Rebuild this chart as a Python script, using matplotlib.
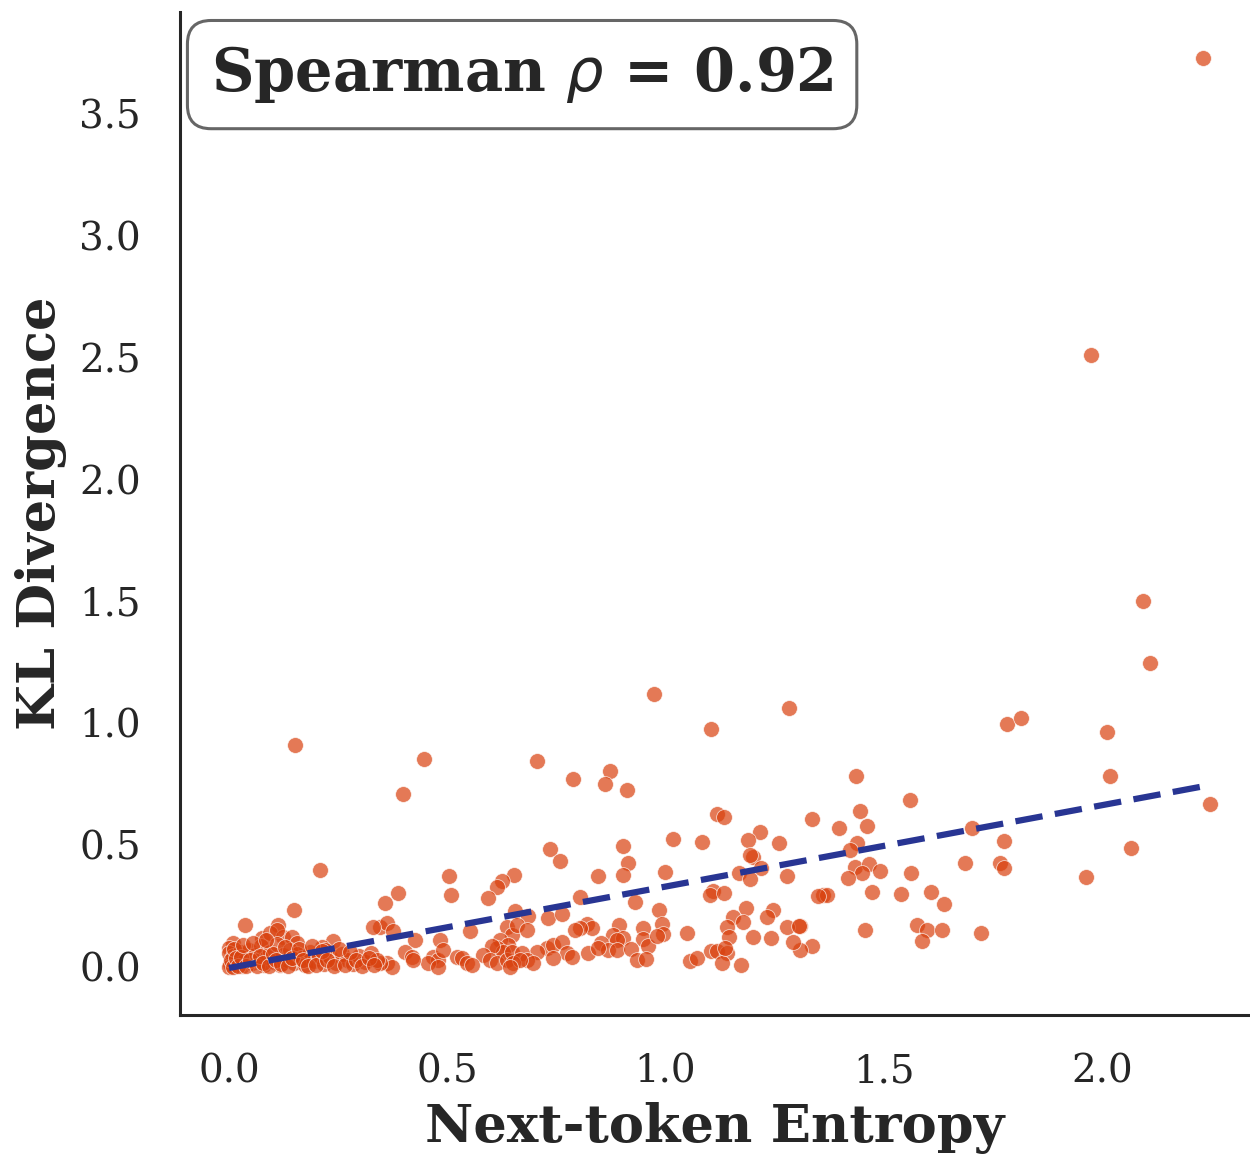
import numpy as np
import matplotlib
matplotlib.use("Agg")
import matplotlib.pyplot as plt

# --- data (entropy, KL divergence) ---
entropy = [
    # outliers / sparse upper region
    2.231, 1.975, 2.094, 2.110, 1.782, 1.814, 2.011, 2.018, 2.247, 2.066, 1.963,
    0.974, 1.104, 1.283, 0.151, 0.447, 0.399, 0.706, 0.788, 0.873, 0.861, 0.912,
    1.436, 1.560, 0.208,
    # 1.3 - 1.8
    1.336, 1.397, 1.446, 1.462, 1.439, 1.423, 1.434, 1.466, 1.491, 1.450, 1.418,
    1.562, 1.702, 1.775, 1.686, 1.766, 1.775, 1.361, 1.370, 1.473, 1.540, 1.608,
    1.638, 1.308, 1.457, 1.576, 1.599, 1.633, 1.588, 1.723, 1.336, 1.308, 1.292,
    1.349,
    # 0.8 - 1.3
    1.118, 1.134, 1.216, 1.189, 1.260, 1.017, 1.084, 0.903, 0.914, 0.903, 1.200,
    1.194, 1.219, 1.168, 1.194, 1.278, 0.999, 0.845, 0.804, 1.109, 1.102, 1.134,
    0.930, 0.985, 1.184, 1.246, 1.233, 1.155, 1.178, 0.820, 0.832, 0.804, 0.893,
    0.948, 0.992, 0.994, 1.049, 1.141, 1.145, 1.200, 1.242, 1.278, 1.306, 0.880,
    0.903, 0.889, 0.948, 0.960, 0.981, 0.852, 0.868, 0.889, 0.921, 0.822, 0.935,
    0.955, 1.056, 1.072, 1.104, 1.118, 1.141, 1.129, 1.173, 1.136,
    # 0.35 - 0.8
    0.735, 0.758, 0.504, 0.509, 0.653, 0.625, 0.614, 0.593, 0.387, 0.357, 0.655,
    0.685, 0.731, 0.763, 0.793, 0.346, 0.362, 0.376, 0.426, 0.403, 0.483, 0.552,
    0.637, 0.648, 0.660, 0.683, 0.621, 0.639, 0.614, 0.628, 0.603, 0.582, 0.598,
    0.614, 0.637, 0.648, 0.729, 0.742, 0.763, 0.774, 0.786, 0.845, 0.706, 0.671,
    0.683, 0.696, 0.467, 0.479, 0.490, 0.456, 0.479, 0.522, 0.534, 0.545, 0.557,
    0.419, 0.422, 0.362, 0.373, 0.346, 0.651, 0.667, 0.644, 0.742,
    # 0.0 - 0.35
    0.149, 0.037, 0.112, 0.076, 0.094, 0.124, 0.144, 0.156, 0.009, 0.000, 0.000,
    0.238, 0.213, 0.220, 0.330, 0.110,
    0.002, 0.010, 0.018, 0.025, 0.030, 0.038, 0.045, 0.052, 0.060, 0.066, 0.074,
    0.080, 0.088, 0.095, 0.102, 0.110, 0.116, 0.124, 0.132, 0.140, 0.148, 0.156,
    0.165, 0.175, 0.185, 0.195, 0.205, 0.218, 0.232, 0.245, 0.258, 0.270, 0.285,
    0.298, 0.312, 0.325, 0.338,
    0.000, 0.004, 0.008, 0.012, 0.015, 0.020, 0.028, 0.033, 0.040, 0.048, 0.055,
    0.063, 0.070, 0.078, 0.085, 0.092, 0.100, 0.107, 0.120, 0.128, 0.136, 0.145,
    0.160, 0.170, 0.180, 0.190, 0.200, 0.212, 0.225, 0.240, 0.252, 0.265, 0.278,
    0.292, 0.305, 0.320, 0.332,
]
kl_div = [
    3.730, 2.511, 1.502, 1.247, 0.997, 1.022, 0.964, 0.784, 0.669, 0.488, 0.369,
    1.120, 0.977, 1.063, 0.911, 0.854, 0.710, 0.845, 0.771, 0.804, 0.751, 0.726,
    0.784, 0.685, 0.398,
    0.607, 0.570, 0.640, 0.579, 0.509, 0.480, 0.410, 0.423, 0.394, 0.386, 0.365,
    0.386, 0.570, 0.517, 0.427, 0.427, 0.406, 0.295, 0.295, 0.308, 0.300, 0.308,
    0.259, 0.168, 0.152, 0.172, 0.152, 0.152, 0.107, 0.140, 0.086, 0.070, 0.103,
    0.291,
    0.628, 0.616, 0.554, 0.521, 0.509, 0.525, 0.513, 0.497, 0.427, 0.378, 0.451,
    0.460, 0.406, 0.386, 0.361, 0.373, 0.390, 0.373, 0.287, 0.312, 0.295, 0.304,
    0.267, 0.234, 0.242, 0.234, 0.205, 0.205, 0.185, 0.176, 0.160, 0.160, 0.172,
    0.160, 0.176, 0.135, 0.140, 0.164, 0.123, 0.123, 0.119, 0.164, 0.168, 0.131,
    0.119, 0.111, 0.115, 0.086, 0.127, 0.098, 0.070, 0.070, 0.074, 0.057, 0.029,
    0.033, 0.025, 0.037, 0.066, 0.066, 0.057, 0.016, 0.008, 0.078,
    0.484, 0.435, 0.373, 0.295, 0.378, 0.353, 0.328, 0.283, 0.304, 0.263, 0.230,
    0.209, 0.201, 0.217, 0.152, 0.164, 0.181, 0.148, 0.111, 0.062, 0.111, 0.148,
    0.164, 0.131, 0.172, 0.152, 0.111, 0.090, 0.078, 0.062, 0.086, 0.049, 0.029,
    0.016, 0.029, 0.062, 0.078, 0.090, 0.103, 0.057, 0.041, 0.078, 0.062, 0.057,
    0.029, 0.016, 0.041, 0.029, 0.070, 0.016, 0.000, 0.041, 0.037, 0.016, 0.008,
    0.041, 0.029, 0.016, 0.000, 0.016, 0.016, 0.029, 0.000, 0.037,
    0.234, 0.172, 0.172, 0.119, 0.140, 0.123, 0.123, 0.098, 0.098, 0.078, 0.057,
    0.107, 0.082, 0.070, 0.164, 0.152,
    0.012, 0.045, 0.020, 0.060, 0.005, 0.035, 0.070, 0.015, 0.050, 0.028, 0.085,
    0.010, 0.040, 0.062, 0.022, 0.095, 0.008, 0.048, 0.030, 0.070, 0.015, 0.052,
    0.035, 0.010, 0.060, 0.025, 0.045, 0.012, 0.040, 0.018, 0.055, 0.030, 0.012,
    0.045, 0.020, 0.058, 0.030,
    0.000, 0.030, 0.002, 0.075, 0.035, 0.003, 0.040, 0.090, 0.004, 0.028, 0.100,
    0.005, 0.045, 0.018, 0.110, 0.006, 0.055, 0.030, 0.012, 0.080, 0.003, 0.038,
    0.075, 0.028, 0.004, 0.085, 0.008, 0.065, 0.028, 0.004, 0.075, 0.010, 0.060,
    0.030, 0.005, 0.035, 0.008,
]
spearman_rho = 0.92
fit_slope, fit_intercept = 0.334, -0.004

x = np.array(entropy)
y = np.array(kl_div)

text_color = "#262626"
plt.rcParams["font.family"] = ["DejaVu Serif"]

fig = plt.figure(figsize=(12.5, 11.54), dpi=100)
ax = fig.add_axes([180 / 1250, 139 / 1154, 1070 / 1250, 1003 / 1154])

ax.scatter(x, y, s=130, color="#d9410e", alpha=0.7, edgecolor="white", linewidth=0.6, zorder=2)

xs = np.array([x.min(), x.max()])
ax.plot(xs, fit_slope * xs + fit_intercept, color="#283593", lw=4.5,
        dashes=(4.4, 2.0), zorder=3)

ax.text(0.029, 0.968, rf"Spearman $\rho$ = {spearman_rho:.2f}", transform=ax.transAxes,
        ha="left", va="top", fontsize=42.5, fontweight="bold", color=text_color,
        bbox=dict(boxstyle="round,pad=0.4", fc="white", ec="#666666", lw=2.2))

ax.set_xlim(-0.1123, 2.339)
ax.set_ylim(-0.197, 3.919)
ax.set_xticks([0.0, 0.5, 1.0, 1.5, 2.0])
ax.set_yticks([0.0, 0.5, 1.0, 1.5, 2.0, 2.5, 3.0, 3.5])
ax.tick_params(length=0, labelsize=28, labelcolor=text_color)
ax.tick_params(axis="y", pad=28)
ax.tick_params(axis="x", pad=28)

ax.set_xlabel("Next-token Entropy", fontsize=38, fontweight="bold", color=text_color, labelpad=8)
ax.set_ylabel("KL Divergence", fontsize=38, fontweight="bold", color=text_color, labelpad=9)

for side in ["top", "right"]:
    ax.spines[side].set_visible(False)
for side in ["left", "bottom"]:
    ax.spines[side].set_color(text_color)
    ax.spines[side].set_linewidth(2.2)

fig.savefig("out.png", dpi=100)
